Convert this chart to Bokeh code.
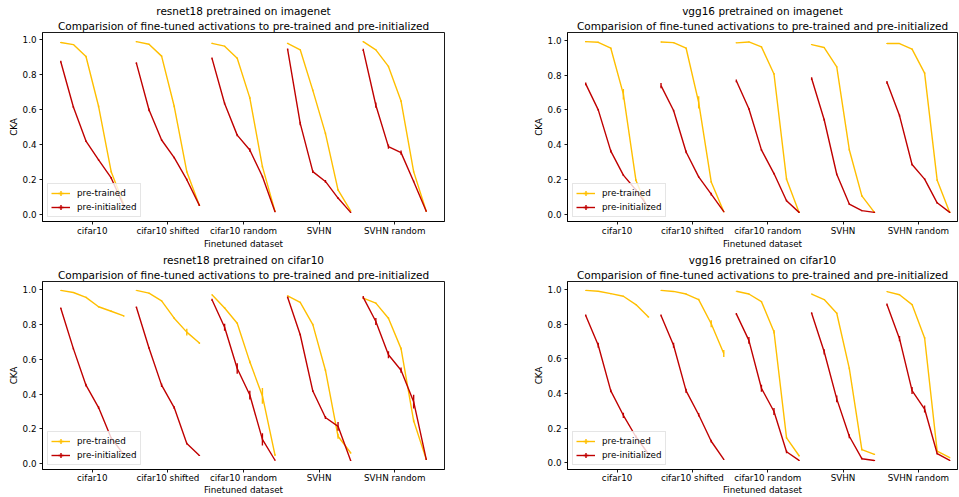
from bokeh.plotting import figure
from bokeh.layouts import row, column
from bokeh.models import (FixedTicker, Range1d, Legend, LegendItem,
                          PrintfTickFormatter, Title)
from bokeh.embed import file_html
from bokeh.resources import INLINE

DATASETS = ["cifar10", "cifar10 shifted", "cifar10 random", "SVHN", "SVHN random"]
SUBTITLE = "Comparision of fine-tuned activations to pre-trained and pre-initialized"
SERIES = ["pre-trained", "pre-initialized"]
X_LABEL = "Finetuned dataset"
Y_LABEL = "CKA"
YELLOW = "#FFBF00"
RED = "#C00000"

# ---- resnet18 pretrained on imagenet ----
r18_in_title = "resnet18 pretrained on imagenet"
r18_in_pt = [
    [0.985, 0.973, 0.905, 0.620, 0.246, 0.060],
    [0.990, 0.975, 0.907, 0.620, 0.246, 0.053],
    [0.980, 0.964, 0.895, 0.668, 0.275, 0.019],
    [0.980, 0.943, 0.711, 0.465, 0.142, 0.022],
    [0.990, 0.943, 0.848, 0.650, 0.246, 0.019],
]
r18_in_pt_err = [
    [0.003, 0.003, 0.004, 0.005, 0.005, 0.003],
    [0.003, 0.003, 0.004, 0.005, 0.005, 0.003],
    [0.003, 0.003, 0.004, 0.006, 0.005, 0.003],
    [0.003, 0.003, 0.005, 0.005, 0.005, 0.003],
    [0.003, 0.003, 0.004, 0.005, 0.005, 0.003],
]
r18_in_pi = [
    [0.875, 0.616, 0.421, 0.313, 0.210, 0.050],
    [0.867, 0.600, 0.427, 0.326, 0.200, 0.053],
    [0.894, 0.636, 0.455, 0.370, 0.218, 0.017],
    [0.945, 0.522, 0.246, 0.190, 0.095, 0.013],
    [0.943, 0.626, 0.389, 0.355, 0.190, 0.019],
]
r18_in_pi_err = [
    [0.005, 0.006, 0.005, 0.005, 0.005, 0.003],
    [0.005, 0.008, 0.005, 0.005, 0.005, 0.003],
    [0.005, 0.006, 0.006, 0.010, 0.005, 0.003],
    [0.005, 0.010, 0.008, 0.008, 0.005, 0.003],
    [0.006, 0.015, 0.012, 0.012, 0.005, 0.003],
]

# ---- vgg16 pretrained on imagenet ----
v16_in_title = "vgg16 pretrained on imagenet"
v16_in_pt = [
    [0.992, 0.988, 0.954, 0.690, 0.196, 0.020],
    [0.990, 0.986, 0.954, 0.643, 0.186, 0.015],
    [0.985, 0.990, 0.962, 0.806, 0.202, 0.011],
    [0.975, 0.958, 0.847, 0.371, 0.106, 0.011],
    [0.981, 0.981, 0.949, 0.811, 0.196, 0.011],
]
v16_in_pt_err = [
    [0.003, 0.003, 0.004, 0.030, 0.005, 0.003],
    [0.003, 0.003, 0.004, 0.035, 0.005, 0.003],
    [0.003, 0.003, 0.004, 0.005, 0.005, 0.003],
    [0.003, 0.003, 0.004, 0.005, 0.005, 0.003],
    [0.003, 0.003, 0.004, 0.005, 0.005, 0.003],
]
v16_in_pi = [
    [0.749, 0.600, 0.363, 0.225, 0.140, 0.040],
    [0.739, 0.596, 0.358, 0.215, 0.116, 0.015],
    [0.767, 0.606, 0.370, 0.234, 0.078, 0.011],
    [0.780, 0.543, 0.230, 0.059, 0.021, 0.011],
    [0.758, 0.567, 0.286, 0.202, 0.066, 0.011],
]
v16_in_pi_err = [
    [0.008, 0.005, 0.008, 0.005, 0.005, 0.003],
    [0.015, 0.005, 0.008, 0.005, 0.008, 0.003],
    [0.008, 0.005, 0.005, 0.005, 0.005, 0.003],
    [0.008, 0.006, 0.005, 0.005, 0.003, 0.003],
    [0.008, 0.006, 0.005, 0.005, 0.005, 0.003],
]

# ---- resnet18 pretrained on cifar10 ----
r18_c10_title = "resnet18 pretrained on cifar10"
r18_c10_pt = [
    [0.997, 0.985, 0.957, 0.903, 0.877, 0.850],
    [0.997, 0.981, 0.937, 0.837, 0.757, 0.694],
    [0.972, 0.896, 0.808, 0.586, 0.390, 0.050],
    [0.966, 0.928, 0.800, 0.538, 0.158, 0.063],
    [0.953, 0.924, 0.837, 0.662, 0.247, 0.025],
]
r18_c10_pt_err = [
    [0.002, 0.003, 0.003, 0.004, 0.004, 0.004],
    [0.002, 0.003, 0.004, 0.005, 0.020, 0.005],
    [0.003, 0.005, 0.005, 0.008, 0.045, 0.005],
    [0.003, 0.004, 0.005, 0.006, 0.015, 0.005],
    [0.003, 0.004, 0.005, 0.006, 0.008, 0.003],
]
r18_c10_pi = [
    [0.894, 0.662, 0.452, 0.323, 0.148, 0.053],
    [0.900, 0.666, 0.452, 0.323, 0.116, 0.047],
    [0.943, 0.785, 0.548, 0.395, 0.140, 0.020],
    [0.957, 0.742, 0.418, 0.266, 0.215, 0.019],
    [0.957, 0.818, 0.627, 0.538, 0.357, 0.025],
]
r18_c10_pi_err = [
    [0.004, 0.005, 0.008, 0.008, 0.005, 0.003],
    [0.004, 0.005, 0.010, 0.008, 0.005, 0.003],
    [0.006, 0.020, 0.030, 0.025, 0.035, 0.003],
    [0.005, 0.005, 0.005, 0.008, 0.025, 0.003],
    [0.008, 0.020, 0.020, 0.015, 0.040, 0.003],
]

# ---- vgg16 pretrained on cifar10 ----
v16_c10_title = "vgg16 pretrained on cifar10"
v16_c10_pt = [
    [0.996, 0.991, 0.977, 0.962, 0.914, 0.842],
    [0.996, 0.990, 0.975, 0.943, 0.803, 0.631],
    [0.991, 0.975, 0.931, 0.757, 0.143, 0.040],
    [0.975, 0.943, 0.864, 0.545, 0.076, 0.048],
    [0.989, 0.971, 0.914, 0.721, 0.067, 0.029],
]
v16_c10_pt_err = [
    [0.002, 0.002, 0.003, 0.003, 0.004, 0.004],
    [0.002, 0.002, 0.003, 0.004, 0.020, 0.020],
    [0.002, 0.003, 0.004, 0.010, 0.005, 0.004],
    [0.003, 0.003, 0.004, 0.005, 0.005, 0.004],
    [0.002, 0.003, 0.004, 0.005, 0.005, 0.003],
]
v16_c10_pi = [
    [0.851, 0.679, 0.415, 0.274, 0.150, 0.050],
    [0.851, 0.679, 0.415, 0.277, 0.124, 0.019],
    [0.860, 0.707, 0.430, 0.296, 0.063, 0.013],
    [0.864, 0.641, 0.369, 0.153, 0.023, 0.013],
    [0.914, 0.717, 0.417, 0.310, 0.053, 0.013],
]
v16_c10_pi_err = [
    [0.005, 0.015, 0.008, 0.015, 0.008, 0.003],
    [0.005, 0.015, 0.012, 0.010, 0.008, 0.003],
    [0.005, 0.020, 0.020, 0.020, 0.008, 0.003],
    [0.005, 0.015, 0.020, 0.012, 0.005, 0.003],
    [0.006, 0.015, 0.020, 0.020, 0.005, 0.003],
]

N_LAYERS = 6
FONT = "DejaVu Sans"
NAN = float("nan")


def layer_x(g):
    return [g + (j - (N_LAYERS - 1) / 2) / N_LAYERS for j in range(N_LAYERS)]


def make_panel(title, pt, pt_err, pi, pi_err, width, height,
               bl, br, bt, bb, x_end, tick_standoff, label_standoff):
    p = figure(width=width, height=height, output_backend="svg",
               toolbar_location=None, title=None,
               min_border_left=bl, min_border_right=br,
               min_border_top=bt, min_border_bottom=bb)
    p.border_fill_color = "white"
    p.background_fill_color = "white"

    renderers = []
    lo, hi = 1e9, -1e9
    for vals, errs, color in ((pt, pt_err, YELLOW), (pi, pi_err, RED)):
        xs, ys = [], []
        ex, ey0, ey1 = [], [], []
        for g, (gv, ge) in enumerate(zip(vals, errs)):
            xx = layer_x(g)
            xs.append(xx)
            ys.append(gv)
            for xv, yv, e in zip(xx, gv, ge):
                ex.append(xv)
                ey0.append(yv - e)
                ey1.append(yv + e)
        lo = min(lo, min(ey0))
        hi = max(hi, max(ey1))
        ml = p.multi_line(xs=xs, ys=ys, line_color=color, line_width=1.4)
        p.segment(x0=ex, y0=ey0, x1=ex, y1=ey1, line_color=color, line_width=1.4)
        # legend-only proxy for the error-bar tick (not drawn: NaN position)
        cr = p.scatter(x=[NAN], y=[NAN], marker="cross", size=9,
                       line_color=color, line_width=1.4)
        renderers.append([ml, cr])

    pad = 0.05 * (hi - lo)
    p.y_range = Range1d(lo - pad, hi + pad)
    xpad = 0.05 * (len(DATASETS) - 1 + (N_LAYERS - 1) / N_LAYERS)
    p.x_range = Range1d(-(N_LAYERS - 1) / (2 * N_LAYERS) - xpad, x_end)

    p.grid.visible = False
    p.outline_line_color = "#000000"
    p.outline_line_width = 0.9

    p.xaxis.ticker = FixedTicker(ticks=list(range(len(DATASETS))))
    p.xaxis.major_label_overrides = {i: d for i, d in enumerate(DATASETS)}
    p.yaxis.ticker = FixedTicker(ticks=[0.0, 0.2, 0.4, 0.6, 0.8, 1.0])
    p.yaxis.formatter = PrintfTickFormatter(format="%.1f")
    p.xaxis.axis_label = X_LABEL
    p.yaxis.axis_label = Y_LABEL
    for ax in (p.xaxis[0], p.yaxis[0]):
        ax.major_label_text_font = FONT
        ax.major_label_text_font_size = "8.75px"
        ax.major_label_text_color = "#000000"
        ax.axis_label_text_font = FONT
        ax.axis_label_text_font_size = "8.75px"
        ax.axis_label_text_font_style = "normal"
        ax.axis_label_text_color = "#000000"
        ax.major_tick_out = 3
        ax.major_tick_in = 0
        ax.minor_tick_out = 0
        ax.minor_tick_in = 0
        ax.axis_line_color = "#000000"
        ax.axis_line_width = 0.9
        ax.major_tick_line_color = "#000000"
        ax.major_tick_line_width = 0.9
    p.xaxis.major_label_standoff = tick_standoff
    p.xaxis.axis_label_standoff = label_standoff
    p.yaxis.major_label_standoff = 3
    p.yaxis.axis_label_standoff = 1

    sub = Title(text=SUBTITLE, align="center", text_font=FONT,
                text_font_size="10.5px", text_font_style="normal",
                text_color="#000000", standoff=2)
    top = Title(text=title, align="center", text_font=FONT,
                text_font_size="10.5px", text_font_style="normal",
                text_color="#000000", standoff=0)
    p.add_layout(sub, "above")
    p.add_layout(top, "above")

    legend = Legend(items=[LegendItem(label=SERIES[0], renderers=renderers[0]),
                           LegendItem(label=SERIES[1], renderers=renderers[1])],
                    location=(5, 4))
    legend.label_text_font = FONT
    legend.label_text_font_size = "8.75px"
    legend.label_text_color = "#000000"
    legend.glyph_width = 19
    legend.glyph_height = 12
    legend.label_height = 12
    legend.spacing = 2
    legend.padding = 3
    legend.margin = 0
    legend.label_standoff = 7
    legend.border_line_color = "#cccccc"
    legend.border_line_width = 1
    legend.background_fill_alpha = 0.8
    p.add_layout(legend)
    return p


X_END_LEFT = 4.658
X_END_RIGHT = 4.52

p1 = make_panel(r18_in_title, r18_in_pt, r18_in_pt_err, r18_in_pi, r18_in_pi_err,
                479, 251, 42, 35, 32, 29, X_END_LEFT, 1, 0)
p2 = make_panel(v16_in_title, v16_in_pt, v16_in_pt_err, v16_in_pi, v16_in_pi_err,
                480, 251, 88, 2, 32, 29, X_END_RIGHT, 1, 0)
p3 = make_panel(r18_c10_title, r18_c10_pt, r18_c10_pt_err, r18_c10_pi, r18_c10_pi_err,
                479, 246, 42, 35, 29, 27, X_END_LEFT, 0, -1)
p4 = make_panel(v16_c10_title, v16_c10_pt, v16_c10_pt_err, v16_c10_pi, v16_c10_pi_err,
                480, 246, 88, 2, 29, 27, X_END_RIGHT, 0, -1)

layout = column(row(p1, p2), row(p3, p4))
open("out.html", "w").write(file_html(layout, INLINE))
